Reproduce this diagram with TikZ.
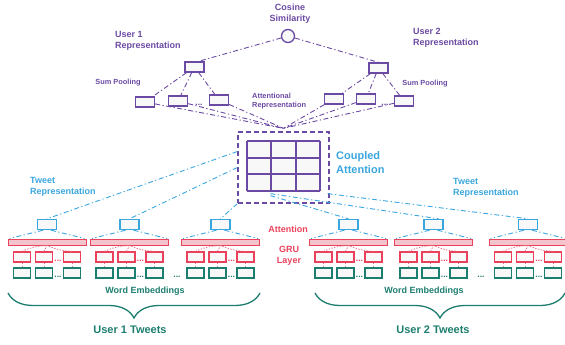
\documentclass[tikz,border=0pt]{standalone}
\usepackage{fontspec}
\setmainfont{Liberation Sans}
\usetikzlibrary{positioning,calc,decorations.pathreplacing}
\definecolor{upurple}{RGB}{106,74,162}
\definecolor{ublue}{RGB}{58,166,222}
\definecolor{ured}{RGB}{234,66,92}
\definecolor{ugreen}{RGB}{28,126,110}
\definecolor{boxfill}{RGB}{248,248,248}
\definecolor{barfill}{RGB}{244,196,204}
\tikzset{
    repbox/.style={draw=upurple,fill=boxfill,line width=1.3pt,minimum width=19pt,minimum height=10pt,inner sep=0pt},
    twbox/.style={draw=ublue,fill=boxfill,line width=1.4pt,minimum width=19pt,minimum height=10pt,inner sep=0pt},
    grubox/.style={draw=ured,fill=boxfill,line width=1.4pt,minimum width=17pt,minimum height=10pt,inner sep=0pt},
    embbox/.style={draw=ugreen,fill=boxfill,line width=1.4pt,minimum width=17pt,minimum height=10pt,inner sep=0pt},
    attbar/.style={draw=ured,fill=barfill,line width=1pt,minimum width=78pt,minimum height=6pt,inner sep=0pt},
    simnode/.style={circle,draw=upurple,fill=boxfill,line width=1.3pt,minimum size=13pt,inner sep=0pt},
    attframe/.style={draw=upurple,dash pattern=on 5pt off 3pt,line width=1.3pt,minimum width=91pt,minimum height=71pt,inner sep=0pt},
    gridline/.style={draw=upurple,line width=2pt},
    plink/.style={upurple,dash pattern=on 5pt off 2.5pt on 1.2pt off 2.5pt,line width=0.9pt},
    blink/.style={ublue,dash pattern=on 5pt off 2.5pt on 1.2pt off 2.5pt,line width=0.9pt},
    rlink/.style={ured!75,dash pattern=on 1.4pt off 1.4pt,line width=0.8pt},
    lbl/.style={font=\fontsize{9}{11}\selectfont\bfseries,align=left,inner sep=0pt},
    small lbl/.style={font=\fontsize{7.4}{9}\selectfont\bfseries,align=left,inner sep=0pt},
    big lbl/.style={font=\fontsize{11}{14}\selectfont\bfseries,align=left,inner sep=0pt},
    dots/.style={font=\fontsize{8.5}{8.5}\selectfont\bfseries,inner sep=0pt,anchor=base},
    tweetbrace/.style={ugreen,line width=1.3pt,decorate,decoration={brace,mirror,amplitude=25pt}}
}

\begin{document}
\begin{tikzpicture}[x=1pt,y=-1pt]
    \useasboundingbox (0,0) rectangle (565,345);

    % user level
    \node[simnode] (cs) at (288,36) {};
    \node[repbox] (u1) at (194.5,67) {};
    \node[repbox] (u2) at (378.5,68) {};
    \node[repbox] (l1) at (145,102) {};
    \node[repbox] (l2) at (178,101) {};
    \node[repbox] (l3) at (219,100) {};
    \node[repbox] (r1) at (334,99)  {};
    \node[repbox] (r2) at (366,99)  {};
    \node[repbox] (r3) at (404,101) {};
    \node[dots,upurple] (ldots) at (199,106) {...};
    \node[dots,upurple] (rdots) at (385,105) {...};

    % coupled attention
    \node[attframe] (att) at (283.5,167.5) {};
    \coordinate (gridnw) at (247,141);
    \coordinate (gridse) at (320,191);
    \fill[boxfill] (gridnw) rectangle (gridse);
    \foreach \k in {0,1,2,3} {
        \draw[gridline] ($(gridnw)+(24.33*\k,0)$) -- ($(gridnw)+(24.33*\k,50)$);
        \draw[gridline] ($(gridnw)+(0,16.67*\k)$) -- ($(gridnw)+(73,16.67*\k)$);
    }

    \draw[plink] (cs) -- ([xshift=4pt]u1.north);
    \draw[plink] (cs) -- (u2.north);
    \foreach \n in {l1,l2,l3} {
        \draw[plink] (u1) -- (\n);
        \draw[plink] (\n) -- ([yshift=3pt]att.north);
    }
    \foreach \n in {r1,r2,r3} {
        \draw[plink] (u2) -- (\n);
        \draw[plink] (\n) -- ([yshift=3pt]att.north);
    }

    % tweet groups
    \foreach \g/\cx in {1/47,2/129.5,3/220.5,4/348.5,5/433.5,6/528} {
        \node[twbox]  (tw\g)  at (\cx,224.5) {};
        \node[attbar] (bar\g) at (\cx,242) {};
        \node[grubox] (g\g a) at (\cx-25,257) {};
        \node[grubox] (g\g b) at (\cx-3,257)  {};
        \node[grubox] (g\g c) at (\cx+25,257) {};
        \node[embbox] (e\g a) at (\cx-25,273) {};
        \node[embbox] (e\g b) at (\cx-3,273)  {};
        \node[embbox] (e\g c) at (\cx+25,273) {};
        \node[dots,ured]   at (\cx+11,261) {...};
        \node[dots,ugreen] at (\cx+11,277) {...};
        \draw[blink] ([xshift=-4pt]tw\g.south) -- ([xshift=2pt]bar\g.north west);
        \draw[blink] ([xshift=4pt]tw\g.south) -- ([xshift=-2pt]bar\g.north east);
        \foreach \k in {a,b,c} {
            \draw[rlink] (g\g\k.north) to[bend left=10] (bar\g.south);
            \draw[rlink] (g\g\k) -- (e\g\k);
        }
    }
    \node[dots,ugreen] (mdots1) at (177,277) {...};
    \node[dots,ugreen] (mdots2) at (481,277) {...};

    \draw[blink] ($(att.west)+(0,-16)$) -- (tw1.north);
    \draw[blink] (att.west) -- (tw2.north);
    \draw[blink] (att.south west) -- (tw3.north);
    \draw[blink] ($(att.south)+(-13,-8)$) -- (tw4.north);
    \draw[blink] ($(att.south)+(-13,-10)$) -- ([xshift=5pt]tw5.north);
    \draw[blink] ($(att.south east)+(-2,-10)$) -- (tw6.north);

    % braces
    \draw[tweetbrace] (8,293) -- (260,293);
    \draw[tweetbrace] (315,293) -- (565,293);

    % labels
    \node[lbl,upurple,align=center] (cslbl) at (290,14) {Cosine\\Similarity};
    \node[lbl,upurple,anchor=north west] (u1lbl) at (115,31.5) {User 1\\Representation};
    \node[lbl,upurple,anchor=north west] (u2lbl) at (413,28.5) {User 2\\Representation};
    \node[small lbl,upurple] (sp1) at (118,83) {Sum Pooling};
    \node[small lbl,upurple] (sp2) at (425,84) {Sum Pooling};
    \node[small lbl,upurple,anchor=north west] (arlbl) at (252,93) {Attentional\\Representation};
    \node[big lbl,ublue,anchor=north west] (calbl) at (336,151) {Coupled\\Attention};
    \node[lbl,ublue,anchor=north west] (tr1) at (30,177) {Tweet\\Representation};
    \node[lbl,ublue,anchor=north west] (tr2) at (453,178) {Tweet\\Representation};
    \node[lbl,ured] (attlbl) at (288,229) {Attention};
    \node[lbl,ured,align=center] (grulbl) at (289,255.5) {GRU\\Layer};
    \node[lbl,ugreen] (we1) at (145,291) {Word Embeddings};
    \node[lbl,ugreen] (we2) at (424,291) {Word Embeddings};
    \node[lbl,ugreen,font=\fontsize{11}{13}\selectfont\bfseries] (ut1) at (130,330) {User 1 Tweets};
    \node[lbl,ugreen,font=\fontsize{11}{13}\selectfont\bfseries] (ut2) at (433,330) {User 2 Tweets};

\end{tikzpicture}
\end{document}
